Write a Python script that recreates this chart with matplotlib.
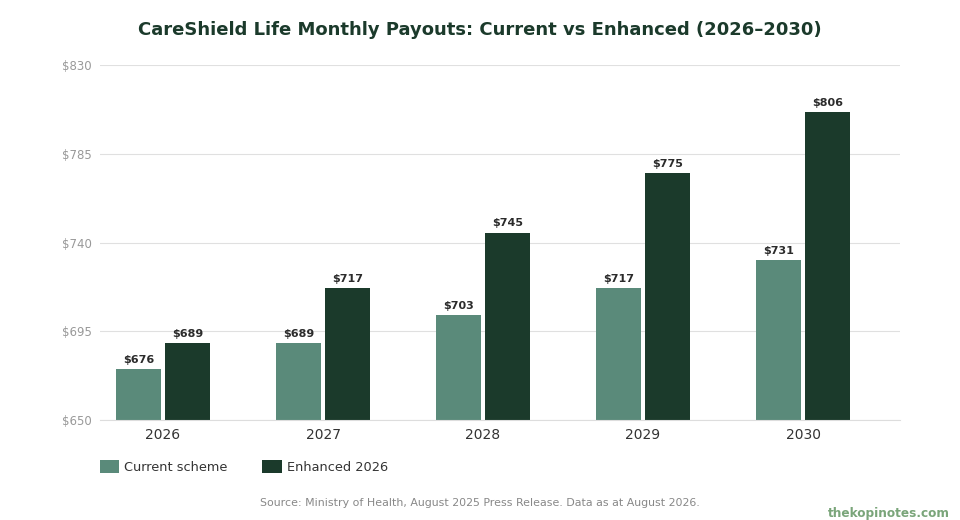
import numpy as np
import matplotlib.pyplot as plt

years = ["2026", "2027", "2028", "2029", "2030"]
current_scheme = [676, 689, 703, 717, 731]
enhanced_2026 = [689, 717, 745, 775, 806]
y_ticks = [650, 695, 740, 785, 830]

col_current = "#5a8a7a"
col_enhanced = "#1b3a2b"

fig = plt.figure(figsize=(9.6, 5.2), dpi=100)
ax = fig.add_axes([100 / 960, 100 / 520, 800 / 960, 355 / 520])

x = np.arange(len(years))
w = 0.28
off = 0.153
b1 = ax.bar(x - off, current_scheme, w, color=col_current, label="Current scheme")
b2 = ax.bar(x + off, enhanced_2026, w, color=col_enhanced, label="Enhanced 2026")

for bars in (b1, b2):
    for b in bars:
        ax.annotate(f"${b.get_height():.0f}", (b.get_x() + b.get_width() / 2, b.get_height()),
                    xytext=(0, 3), textcoords="offset points", ha="center", va="bottom",
                    fontsize=8, fontweight="bold", color="#2b2b2b")

ax.set_xlim(-0.394, 4.606)
ax.set_ylim(650, 830)
ax.set_yticks(y_ticks)
ax.set_yticklabels([f"${v}" for v in y_ticks])
ax.set_xticks(x)
ax.set_xticklabels(years)
ax.tick_params(axis="y", length=0, labelsize=8.5, labelcolor="#999999", pad=6)
ax.tick_params(axis="x", length=0, labelsize=10, labelcolor="#333333", pad=6)
ax.grid(axis="y", color="#e0e0e0", linewidth=0.8)
ax.set_axisbelow(True)
for s in ("top", "right", "left"):
    ax.spines[s].set_visible(False)
ax.spines["bottom"].set_color("#dddddd")

fig.text(0.5, 1 - 30 / 520, "CareShield Life Monthly Payouts: Current vs Enhanced (2026\u20132030)",
         ha="center", va="center", fontsize=13, fontweight="bold", color="#1b3a2b")

fig.legend(loc="center left", bbox_to_anchor=(88 / 960, 1 - 467 / 520), ncol=2, frameon=False,
           fontsize=9.3, handlelength=1.5, handleheight=1.2, columnspacing=2.7, handletextpad=0.4,
           labelcolor="#333333")

fig.text(0.5, 1 - 503 / 520, "Source: Ministry of Health, August 2025 Press Release. Data as at August 2026.",
         ha="center", va="center", fontsize=7.9, color="#888888")
fig.text(950 / 960, 1 - 514 / 520, "thekopinotes.com", ha="right", va="center",
         fontsize=8.7, fontweight="bold", color="#7aa57a")

fig.savefig("out.png", dpi=100)
